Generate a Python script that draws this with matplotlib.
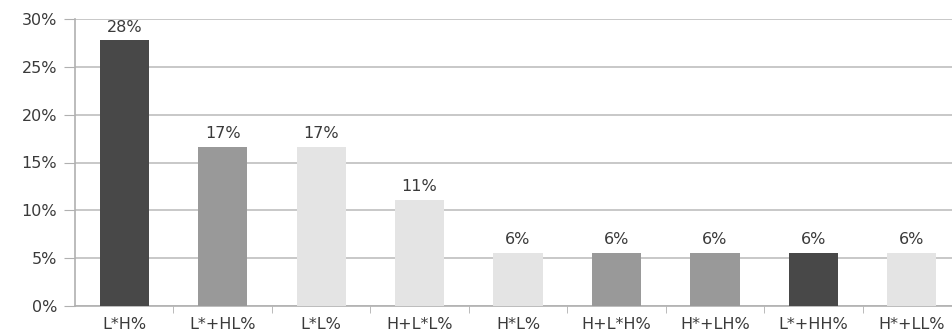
import numpy as np
import matplotlib
matplotlib.use('Agg')
import matplotlib.pyplot as plt
from matplotlib.ticker import FixedLocator, PercentFormatter

# categories and shares (counts out of 18)
categories = ['L*H%', 'L*+HL%', 'L*L%', 'H+L*L%', 'H*L%', 'H+L*H%', 'H*+LH%', 'L*+HH%', 'H*+LL%']
counts = [5, 3, 3, 2, 1, 1, 1, 1, 1]
total = 18
labels = ['28%', '17%', '17%', '11%', '6%', '6%', '6%', '6%', '6%']
bar_colors = ['#484848', '#999999', '#e4e4e4', '#e4e4e4', '#e4e4e4',
              '#999999', '#999999', '#484848', '#e4e4e4']

values = [c / total * 100 for c in counts]

plt.rcParams['font.family'] = ['DejaVu Sans']
fs = 11.5
txt_color = '#3a3a3a'

fig = plt.figure(figsize=(9.52, 3.34), dpi=100)
# axes run a bit past the right edge, like the cropped original
ax = fig.add_axes([75 / 952, 28 / 334, 886 / 952, 287 / 334])

x = np.arange(len(categories))
ax.bar(x, values, width=0.5, color=bar_colors, zorder=3)

for xi, v, lab in zip(x, values, labels):
    ax.annotate(lab, (xi, v), xytext=(0, 4), textcoords='offset points',
                ha='center', va='bottom', fontsize=fs, color=txt_color)

ax.set_xlim(-0.5, len(categories) - 0.5)
ax.set_ylim(0, 30)
ax.set_yticks(np.arange(0, 31, 5))
ax.yaxis.set_major_formatter(PercentFormatter(decimals=0))
ax.yaxis.grid(True, color='#c4c4c4', linewidth=1.3, zorder=0)

ax.set_xticks(x)
ax.set_xticklabels(categories)
ax.xaxis.set_minor_locator(FixedLocator(np.arange(0.5, len(categories) - 1, 1)))
ax.tick_params(axis='x', which='major', length=0, pad=8, labelsize=fs, labelcolor=txt_color)
ax.tick_params(axis='x', which='minor', length=5, color='#b0b0b0', direction='out')
ax.tick_params(axis='y', length=8, color='#b0b0b0', labelsize=fs, labelcolor=txt_color, pad=5)

for side in ['top', 'right']:
    ax.spines[side].set_visible(False)
for side in ['left', 'bottom']:
    ax.spines[side].set_color('#b0b0b0')
    ax.spines[side].set_linewidth(1.2)

fig.savefig('out.png', dpi=100)
